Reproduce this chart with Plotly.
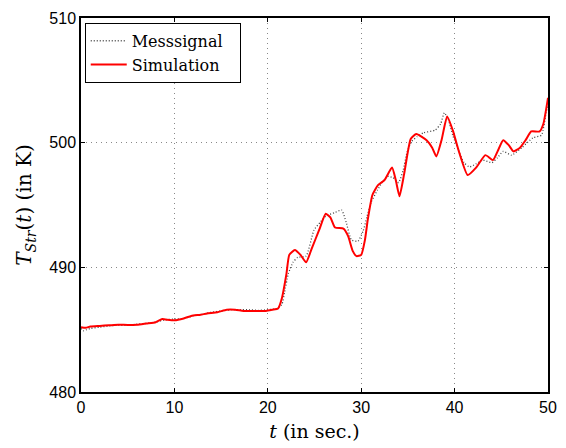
import plotly.graph_objects as go

# Simulation (red)
sim_t = [0, 0.5, 1, 2, 3, 4, 5, 6, 7, 8, 8.7, 9.2, 10, 11, 11.8, 12.8, 13.5, 14.6, 15.6, 16.5,
         17.4, 18.8, 19.8, 20.5, 21.1, 21.5, 22.0, 22.3, 22.9, 23.5, 24.1, 24.7, 25.5, 26.2, 26.7,
         27.2, 28.1, 28.6, 29.1, 29.5, 30.0, 30.4, 30.7, 31.2, 31.8, 32.5, 33.3, 33.7, 34.1, 34.6,
         35.3, 35.9, 37.0, 37.6, 38.05, 38.6, 39.2, 39.8, 40.5, 41.4, 42.3, 43.3, 44.1, 44.6, 45.2,
         45.8, 46.3, 47.0, 47.6, 48.2, 49.1, 49.5, 50]
sim_y = [485.2, 485.15, 485.25, 485.3, 485.35, 485.4, 485.38, 485.4, 485.5, 485.6, 485.85, 485.8,
         485.75, 485.9, 486.1, 486.2, 486.3, 486.4, 486.6, 486.6, 486.5, 486.5, 486.5, 486.6, 486.7,
         487.5, 489.5, 491.0, 491.4, 491.0, 490.4, 491.5, 493.0, 494.3, 494.0, 493.2, 493.1, 492.5,
         491.3, 490.9, 491.0, 492.2, 493.8, 495.8, 496.6, 497.0, 498.0, 497.0, 495.7, 497.5, 500.3,
         500.7, 500.2, 499.6, 498.9, 500.2, 502.1, 501.0, 499.2, 497.4, 498.0, 499.0, 498.6, 499.3,
         500.2, 499.8, 499.3, 499.6, 500.2, 500.9, 500.9, 501.5, 503.6]

# Messsignal (dotted)
mes_t = [0, 0.3, 0.6, 1, 2, 3, 4, 5, 6, 7, 8, 9, 10, 11, 12, 13, 14, 15, 16, 17, 18, 19, 20, 21,
         21.5, 21.8, 22.2, 22.7, 23.2, 24.1, 24.95, 25.6, 26.2, 27.2, 27.9, 28.4, 28.95, 29.65, 30.2,
         30.6, 31.05, 31.75, 32.3, 32.8, 33.4, 34.0, 34.5, 34.9, 35.4, 36.0, 36.7, 37.9, 38.5, 38.9,
         39.3, 39.8, 40.4, 41.0, 41.6, 42.3, 43.0, 44.0, 44.6, 45.2, 46.1, 47.2, 48.4, 49.3, 49.8, 50]
mes_y = [485.1, 484.9, 485.0, 485.1, 485.2, 485.3, 485.35, 485.35, 485.45, 485.5, 485.6, 485.8,
         485.85, 485.9, 486.1, 486.25, 486.4, 486.5, 486.6, 486.6, 486.6, 486.55, 486.6, 486.7,
         487.0, 488.0, 489.5, 490.4, 490.8, 490.9, 493.0, 493.6, 494.1, 494.4, 494.6, 493.6, 492.2,
         492.1, 492.9, 494.0, 495.2, 496.2, 496.9, 497.3, 497.2, 496.8, 497.8, 499.2, 500.1, 500.5,
         500.8, 501.0, 501.5, 502.4, 501.9, 500.6, 499.4, 498.4, 498.05, 498.3, 498.6, 498.4, 498.8,
         499.3, 499.0, 499.6, 500.4, 500.6, 502.4, 503.0]

x_ticks = [0, 10, 20, 30, 40, 50]
y_ticks = [480, 490, 500, 510]

fig = go.Figure()
fig.add_trace(go.Scatter(x=mes_t, y=mes_y, mode="lines", name="Messsignal",
                         line=dict(color="#444444", width=1.3, dash="1px,2px",
                                   shape="spline", smoothing=0.5)))
fig.add_trace(go.Scatter(x=sim_t, y=sim_y, mode="lines", name="Simulation\u00a0\u00a0\u00a0",
                         line=dict(color="#ff0000", width=2, shape="spline", smoothing=0.5)))

axis_common = dict(showline=True, linecolor="black", linewidth=1.5, mirror="allticks",
                   ticks="inside", ticklen=4, tickcolor="black",
                   showgrid=True, gridcolor="#888888", griddash="1px,4px", gridwidth=1,
                   zeroline=False,
                   tickfont=dict(family="Liberation Sans, Arial, sans-serif", size=16, color="black"))

fig.update_xaxes(range=[0, 50], tickvals=x_ticks, ticktext=[str(v) for v in x_ticks],
                 title=dict(text="<i>t</i> (in sec.)",
                            font=dict(family="DejaVu Serif, serif", size=19, color="black"),
                            standoff=10),
                 **axis_common)
fig.update_yaxes(range=[480, 510], tickvals=y_ticks, ticktext=[str(v) for v in y_ticks],
                 title=dict(text="<i>T</i><sub><i>Str</i></sub>(<i>t</i>) (in K)",
                            font=dict(family="DejaVu Serif, serif", size=20, color="black"),
                            standoff=12),
                 **axis_common)

fig.update_layout(
    width=566, height=448,
    margin=dict(l=81, r=9, t=18, b=55),
    plot_bgcolor="white", paper_bgcolor="white",
    showlegend=True,
    legend=dict(x=0.008, y=0.987, xanchor="left", yanchor="top",
                bgcolor="white", bordercolor="black", borderwidth=1,
                font=dict(family="DejaVu Serif, serif", size=16, color="black"),
                tracegroupgap=0, itemwidth=36),
)

fig.write_html("out.html")
